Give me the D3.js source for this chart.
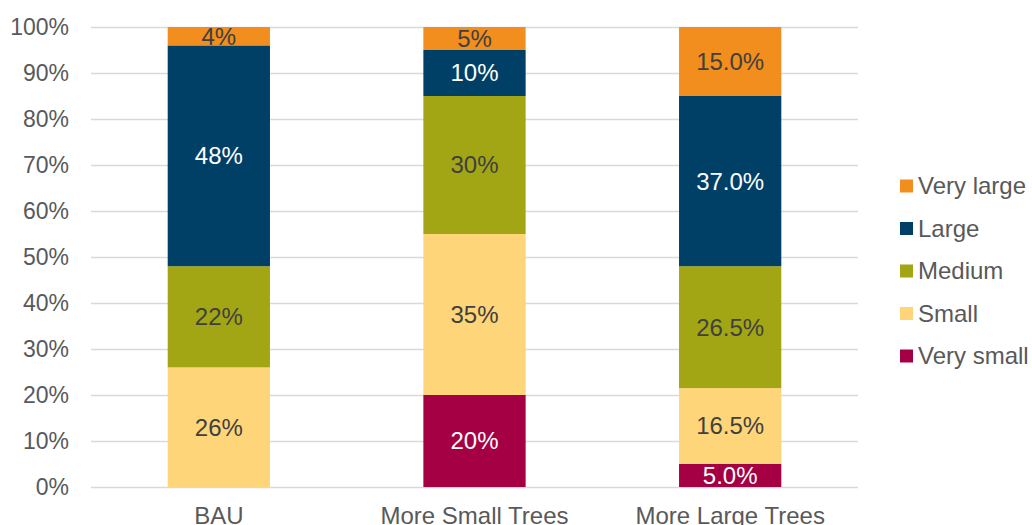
<!DOCTYPE html>
<html>
<head>
<meta charset="utf-8">
<script src="https://cdn.jsdelivr.net/npm/d3@7"></script>
<style>
  body { margin: 0; background: #fff; }
  text { font-family: "Liberation Sans", Arial, sans-serif; }
</style>
</head>
<body>
<svg width="1032" height="525"></svg>
<script>
// Data
var scenarios = ["BAU", "More Small Trees", "More Large Trees"];
var sizes = ["Very small", "Small", "Medium", "Large", "Very large"];
var verySmall = [0, 20, 5.0];
var small = [26, 35, 16.5];
var medium = [22, 30, 26.5];
var large = [48, 10, 37.0];
var veryLarge = [4, 5, 15.0];
var decimals = [0, 0, 1];
var yTicks = [0, 10, 20, 30, 40, 50, 60, 70, 80, 90, 100];

var colors = ["#A50044", "#FFD57A", "#A3A614", "#003F66", "#F28E1E"];
var labelColors = ["#ffffff", "#404040", "#404040", "#ffffff", "#404040"];

var svg = d3.select("svg");

var x = d3.scaleBand()
  .domain(scenarios)
  .range([91, 858])
  .paddingInner(0.6)
  .paddingOuter(0.3);

var y = d3.scaleLinear()
  .domain([0, 100])
  .range([487, 27]);

// build table for stacking
var table = scenarios.map(function(s, i) {
  return {
    scenario: s,
    "Very small": verySmall[i],
    "Small": small[i],
    "Medium": medium[i],
    "Large": large[i],
    "Very large": veryLarge[i],
    dec: decimals[i]
  };
});
var series = d3.stack().keys(sizes)(table);

// gridlines
svg.append("g")
  .selectAll("line")
  .data(yTicks)
  .enter().append("line")
    .attr("x1", 91)
    .attr("x2", 858)
    .attr("y1", function(d) { return Math.round(y(d)) + 0.5; })
    .attr("y2", function(d) { return Math.round(y(d)) + 0.5; })
    .attr("stroke", "#d9d9d9")
    .attr("stroke-width", 1.5);

// y axis labels
svg.append("g")
  .selectAll("text")
  .data(yTicks)
  .enter().append("text")
    .attr("x", 69)
    .attr("y", function(d) { return y(d); })
    .attr("dy", "0.35em")
    .attr("text-anchor", "end")
    .attr("font-size", 23)
    .attr("fill", "#595959")
    .text(function(d) { return d + "%"; });

// bars
var groups = svg.append("g")
  .selectAll("g")
  .data(series)
  .enter().append("g")
    .attr("fill", function(d, i) { return colors[i]; });

groups.selectAll("rect")
  .data(function(d) { return d; })
  .enter().append("rect")
    .attr("x", function(d) { return x(d.data.scenario); })
    .attr("width", x.bandwidth())
    .attr("y", function(d) { return y(d[1]); })
    .attr("height", function(d) { return y(d[0]) - y(d[1]); });

// data labels
series.forEach(function(s, i) {
  svg.append("g")
    .selectAll("text")
    .data(s.filter(function(d) { return d[1] - d[0] > 0; }))
    .enter().append("text")
      .attr("x", function(d) { return x(d.data.scenario) + x.bandwidth() / 2; })
      .attr("y", function(d) { return y((d[0] + d[1]) / 2); })
      .attr("dy", "0.35em")
      .attr("text-anchor", "middle")
      .attr("font-size", 24)
      .attr("fill", labelColors[i])
      .text(function(d) { return (d[1] - d[0]).toFixed(d.data.dec) + "%"; });
});

// x axis labels
svg.append("g")
  .selectAll("text")
  .data(scenarios)
  .enter().append("text")
    .attr("x", function(d) { return x(d) + x.bandwidth() / 2; })
    .attr("y", 516)
    .attr("dy", "0.35em")
    .attr("text-anchor", "middle")
    .attr("font-size", 24)
    .attr("fill", "#595959")
    .text(function(d) { return d; });

// legend (reverse order)
var legendKeys = sizes.slice().reverse();
var legend = svg.append("g")
  .selectAll("g")
  .data(legendKeys)
  .enter().append("g")
    .attr("transform", function(d, i) { return "translate(900," + (186 + i * 42.5) + ")"; });

legend.append("rect")
  .attr("x", 0)
  .attr("y", -6.5)
  .attr("width", 13)
  .attr("height", 13)
  .attr("fill", function(d) { return colors[sizes.indexOf(d)]; });

legend.append("text")
  .attr("x", 18)
  .attr("y", 0)
  .attr("dy", "0.35em")
  .attr("font-size", 24)
  .attr("fill", "#595959")
  .text(function(d) { return d; });
</script>
</body>
</html>
